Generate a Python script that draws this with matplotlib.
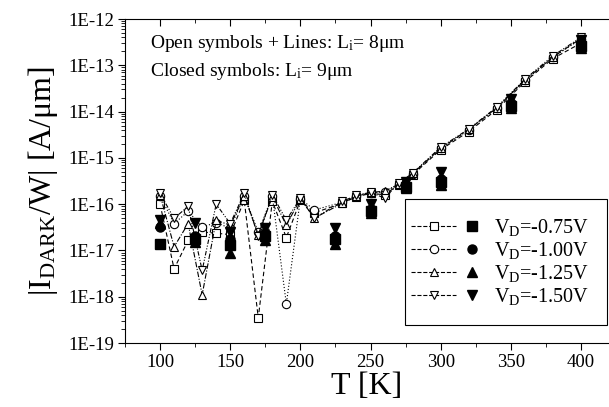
import numpy as np
import matplotlib
matplotlib.use("Agg")
import matplotlib.pyplot as plt
from matplotlib.lines import Line2D
from matplotlib.legend_handler import HandlerBase
from matplotlib.ticker import FixedLocator, FuncFormatter, MultipleLocator, NullFormatter

plt.rcParams["font.family"] = "Liberation Serif"
plt.rcParams["mathtext.fontset"] = "custom"
plt.rcParams["mathtext.rm"] = "Liberation Serif"
plt.rcParams["mathtext.it"] = "Liberation Serif:italic"

# open symbols + lines: Li = 8 um
T_open = [100, 110, 120, 130, 140, 150, 160, 170, 180, 190, 200, 210,
          230, 240, 250, 260, 270, 280, 300, 320, 340, 360, 380, 400]
I_open_075 = [1.0e-16, 4.0e-18, 1.65e-17, 2.5e-17, 2.35e-17, 2.2e-17, 1.2e-16, 3.5e-19,
              1.15e-16, 1.9e-17, 1.2e-16, 6.5e-17, 1.05e-16, 1.45e-16, 1.7e-16, 1.6e-16,
              2.6e-16, 4.3e-16, 1.5e-15, 3.7e-15, 1.1e-14, 4.4e-14, 1.4e-13, 3.0e-13]
I_open_100 = [1.5e-16, 3.8e-17, 7.0e-17, 3.2e-17, 4.0e-17, 3.0e-17, 1.5e-16, 2.5e-17,
              1.5e-16, 7.0e-19, 1.3e-16, 7.5e-17, 1.1e-16, 1.5e-16, 1.75e-16, 1.8e-16,
              2.7e-16, 4.5e-16, 1.6e-15, 4.0e-15, 1.2e-14, 4.7e-14, 1.5e-13, 3.7e-13]
I_open_125 = [1.6e-16, 1.2e-17, 3.8e-17, 1.1e-18, 4.5e-17, 3.5e-17, 1.5e-16, 2.2e-17,
              1.45e-16, 3.5e-17, 1.3e-16, 5.0e-17, 1.05e-16, 1.5e-16, 1.8e-16, 1.9e-16,
              2.7e-16, 4.6e-16, 1.6e-15, 4.1e-15, 1.2e-14, 4.8e-14, 1.5e-13, 3.8e-13]
I_open_150 = [1.7e-16, 4.9e-17, 9.0e-17, 3.7e-18, 1.0e-16, 3.8e-17, 1.7e-16, 2.0e-17,
              1.6e-16, 4.5e-17, 1.35e-16, 5.0e-17, 1.15e-16, 1.55e-16, 1.8e-16, 1.35e-16,
              2.8e-16, 4.7e-16, 1.7e-15, 4.2e-15, 1.25e-14, 5.0e-14, 1.6e-13, 4.0e-13]

# closed symbols: Li = 9 um
T_closed = [100, 125, 150, 175, 225, 250, 275, 300, 350, 400]
I_closed_075 = [1.4e-17, 1.8e-17, 1.3e-17, 2.0e-17, 1.8e-17, 7.0e-17, 2.3e-16, 3.0e-16, 1.3e-14, 2.6e-13]
I_closed_100 = [3.2e-17, 2.1e-17, 1.8e-17, 2.4e-17, 2.1e-17, 8.0e-17, 2.5e-16, 3.5e-16, 1.5e-14, 3.0e-13]
I_closed_125 = [4.0e-17, 1.5e-17, 9.0e-18, 1.7e-17, 1.35e-17, 6.5e-17, 2.2e-16, 2.6e-16, 1.2e-14, 2.4e-13]
I_closed_150 = [4.5e-17, 3.9e-17, 2.5e-17, 3.0e-17, 3.0e-17, 1.0e-16, 3.0e-16, 5.0e-16, 1.9e-14, 3.5e-13]

labels = [r"V$_\mathrm{D}$=-0.75V", r"V$_\mathrm{D}$=-1.00V",
          r"V$_\mathrm{D}$=-1.25V", r"V$_\mathrm{D}$=-1.50V"]
markers = ["s", "o", "^", "v"]
dashes = [(0, (4, 2.5)), (0, (1, 1.8)), (0, (5, 1.5, 1, 1.5)), (0, (4, 1.5, 1, 1.5, 1, 1.5))]

decades = list(range(-19, -11))


class PairHandler(HandlerBase):
    """line + open marker, then the filled marker"""
    def create_artists(self, legend, orig, xdescent, ydescent, width, height, fontsize, trans):
        opn, cls = orig
        y = height / 2 - ydescent
        x0 = -xdescent - 9
        x1 = x0 + 0.70 * (width + 9)
        ln = Line2D([x0, x1], [y, y], color="k", lw=0.8, ls=opn.get_linestyle())
        mk = Line2D([(x0 + x1) / 2], [y], marker=opn.get_marker(), ms=6, mfc="white",
                    mec="k", mew=0.8, ls="none")
        cl = Line2D([-xdescent + width - 3], [y], marker=cls.get_marker(), ms=6.5,
                    color="k", ls="none")
        for a in (ln, mk, cl):
            a.set_transform(trans)
        return [ln, mk, cl]


fig = plt.figure(figsize=(6.09, 4.07), dpi=100)
ax = fig.add_axes([125 / 609, 1 - 343 / 407, 1 - 125 / 609, (343 - 19) / 407])

handles = []
for I_o, I_c, m, d in zip([I_open_075, I_open_100, I_open_125, I_open_150],
                          [I_closed_075, I_closed_100, I_closed_125, I_closed_150],
                          markers, dashes):
    h_o, = ax.plot(T_open, I_o, ls=d, color="k", lw=0.8, marker=m, ms=6,
                   mfc="white", mec="k", mew=0.8, zorder=2)
    h_c, = ax.plot(T_closed, I_c, ls="none", marker=m, ms=6.5, color="k", zorder=3)
    handles.append((h_o, h_c))

ax.set_yscale("log")
ax.set_xlim(75, 420)
ax.set_ylim(1e-19, 1e-12)
ax.xaxis.set_major_locator(MultipleLocator(50))
ax.xaxis.set_minor_locator(MultipleLocator(25))
ax.yaxis.set_major_locator(FixedLocator([10.0 ** e for e in decades]))
ax.yaxis.set_minor_locator(FixedLocator([s * 10.0 ** e for e in decades[:-1] for s in range(2, 10)]))
ax.yaxis.set_minor_formatter(NullFormatter())
ax.yaxis.set_major_formatter(FuncFormatter(lambda v, p: f"1E{int(round(np.log10(v)))}"))
ax.tick_params(which="major", direction="out", length=5, width=0.8, labelsize=13.5, pad=3)
ax.tick_params(which="minor", direction="out", length=3, width=0.6)
ax.spines["right"].set_visible(False)
for s in ("left", "bottom", "top"):
    ax.spines[s].set_linewidth(0.8)

# top axis: ticks only, pointing inward
ax.tick_params(axis="x", which="both", top=True)
for t in ax.xaxis.get_major_ticks() + ax.xaxis.get_minor_ticks():
    t.tick2line.set_marker(3)

ax.set_xlabel("T [K]", fontsize=23, labelpad=1)
ax.set_ylabel(r"|I$_\mathrm{DARK}$/W| [A/μm]", fontsize=23, labelpad=6)

ax.text(25 / 484, 1 - 24 / 324, r"Open symbols + Lines: L$_\mathrm{i}$= 8μm",
        fontsize=14, va="center", transform=ax.transAxes)
ax.text(25 / 484, 1 - 53 / 324, r"Closed symbols: L$_\mathrm{i}$= 9μm",
        fontsize=14, va="center", transform=ax.transAxes)

leg = ax.legend(handles, labels, handler_map={tuple: PairHandler()},
                loc="upper right", bbox_to_anchor=(607 / 609, 1 - 199 / 407),
                bbox_transform=fig.transFigure, borderaxespad=0, fontsize=14.5,
                handlelength=2.6, handletextpad=0.9, labelspacing=0.1,
                borderpad=0.9, fancybox=False, framealpha=1, edgecolor="k")
leg.get_frame().set_linewidth(0.8)

fig.savefig("out.png", dpi=100)
